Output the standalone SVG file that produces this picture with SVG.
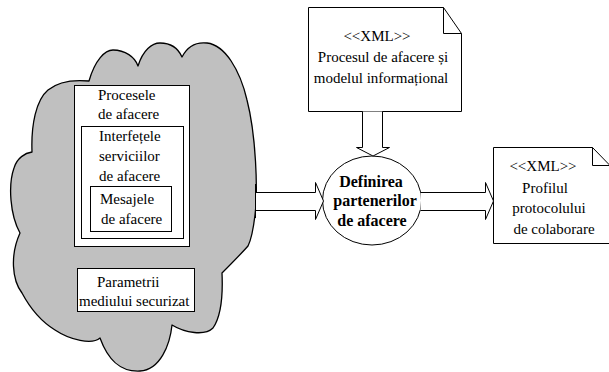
<svg xmlns="http://www.w3.org/2000/svg" width="609" height="372" viewBox="0 0 609 372">
  <style>
    .ln { fill: none; stroke: #000; stroke-width: 1; }
    .box { fill: #fff; stroke: #000; stroke-width: 1; }
    .cloud { fill: #c0c0c0; stroke: #000; stroke-width: 1.3; stroke-linejoin: round; }
    .arrow { fill: #fff; stroke: #000; stroke-width: 1; stroke-linejoin: miter; }
    text { font-family: 'Liberation Serif', 'DejaVu Serif', 'Times New Roman', serif; font-size: 15px; fill: #000; }
    .c { text-anchor: middle; }
    .b { font-weight: bold; font-size: 16px; }
  </style>
  <rect x="0" y="0" width="609" height="372" fill="#fff"/>

  <!-- environment cloud with nested business boxes -->
  <g id="cloud">
    <path class="cloud" d="M89,81 C95,60 105,50 113,50 C125,50 135,57 138,66 C143,50 152,43 160,43 C170,43 178,48 182,57 C188,45 198,42 207,43 C225,45 240,70 247,100 C256,135 258,190 255,215 C253,232 251,240 248,246 C240,255 230,265 222,273 C223,295 222,315 213,328 C205,336 185,333 172,325 C170,345 160,370 140,371 C120,372 108,360 100,338 C92,345 70,340 55,330 C42,322 30,308 22,293 C12,280 10,255 20,233 C10,215 8,185 14,168 C17,158 25,153 32,152 C31,125 36,100 48,90 C60,80 78,80 89,81 Z"/>
  </g>

  <g id="procese">
    <rect class="box" x="74.5" y="85.5" width="115" height="161"/>
    <text x="98" y="100">Procesele</text>
    <text x="98" y="119">de afacere</text>
  </g>

  <g id="interfete">
    <rect class="box" x="81.5" y="126.5" width="102" height="112"/>
    <text x="99" y="141">Interfețele</text>
    <text x="99" y="161">serviciilor</text>
    <text x="99" y="181">de afacere</text>
  </g>

  <g id="mesaje">
    <rect class="box" x="90.5" y="186.5" width="81" height="45"/>
    <text x="100" y="204">Mesajele</text>
    <text x="101" y="224">de afacere</text>
  </g>

  <g id="parametri">
    <rect class="box" x="77.5" y="268.5" width="117" height="43"/>
    <text x="97" y="287">Parametrii</text>
    <text x="79" y="306">mediului securizat</text>
  </g>

  <!-- XML document: business process and information model -->
  <g id="doc-proces">
    <path class="box" d="M308.5,7.5 H443.5 L461.5,33.5 V111.5 H308.5 Z"/>
    <path class="ln" d="M443.5,7.5 V33.5 H461.5"/>
    <text class="c" x="377" y="41">&lt;&lt;XML&gt;&gt;</text>
    <text class="c" x="383" y="62">Procesul de afacere și</text>
    <text class="c" x="381" y="83">modelul informațional</text>
  </g>

  <!-- central process -->
  <g id="definire">
    <ellipse class="box" cx="372" cy="200.5" rx="49.5" ry="44.5"/>
    <text class="c b" x="371" y="187">Definirea</text>
    <text class="c b" x="375" y="206">partenerilor</text>
    <text class="c b" x="372" y="226">de afacere</text>
  </g>

  <!-- XML document: collaboration protocol profile -->
  <g id="doc-profil">
    <path class="box" d="M493.5,147.5 H592.5 L610,165.5 V243.5 H493.5 Z"/>
    <path class="ln" d="M592.5,147.5 V165.5 H610"/>
    <text class="c" x="543" y="171">&lt;&lt;XML&gt;&gt;</text>
    <text class="c" x="545" y="193">Profilul</text>
    <text class="c" x="549" y="213">protocolului</text>
    <text class="c" x="554" y="234">de colaborare</text>
  </g>

  <!-- block arrows -->
  <g id="connectors">
    <path class="arrow" d="M362.5,111.5 V147.5 H356.5 L373,156 L389.5,147.5 H382.5 V111.5"/>
    <path class="arrow" d="M255.5,192.5 H315.5 V182.5 L323.5,201 L315.5,219.5 V210.5 H255.5 Z"/>
    <path class="ln" d="M255.5,184 V218" stroke-width="2"/>
    <path class="arrow" d="M420.5,192.5 H485.5 V182.5 L493.5,201 L485.5,219.5 V210.5 H420.5"/>
  </g>
</svg>
